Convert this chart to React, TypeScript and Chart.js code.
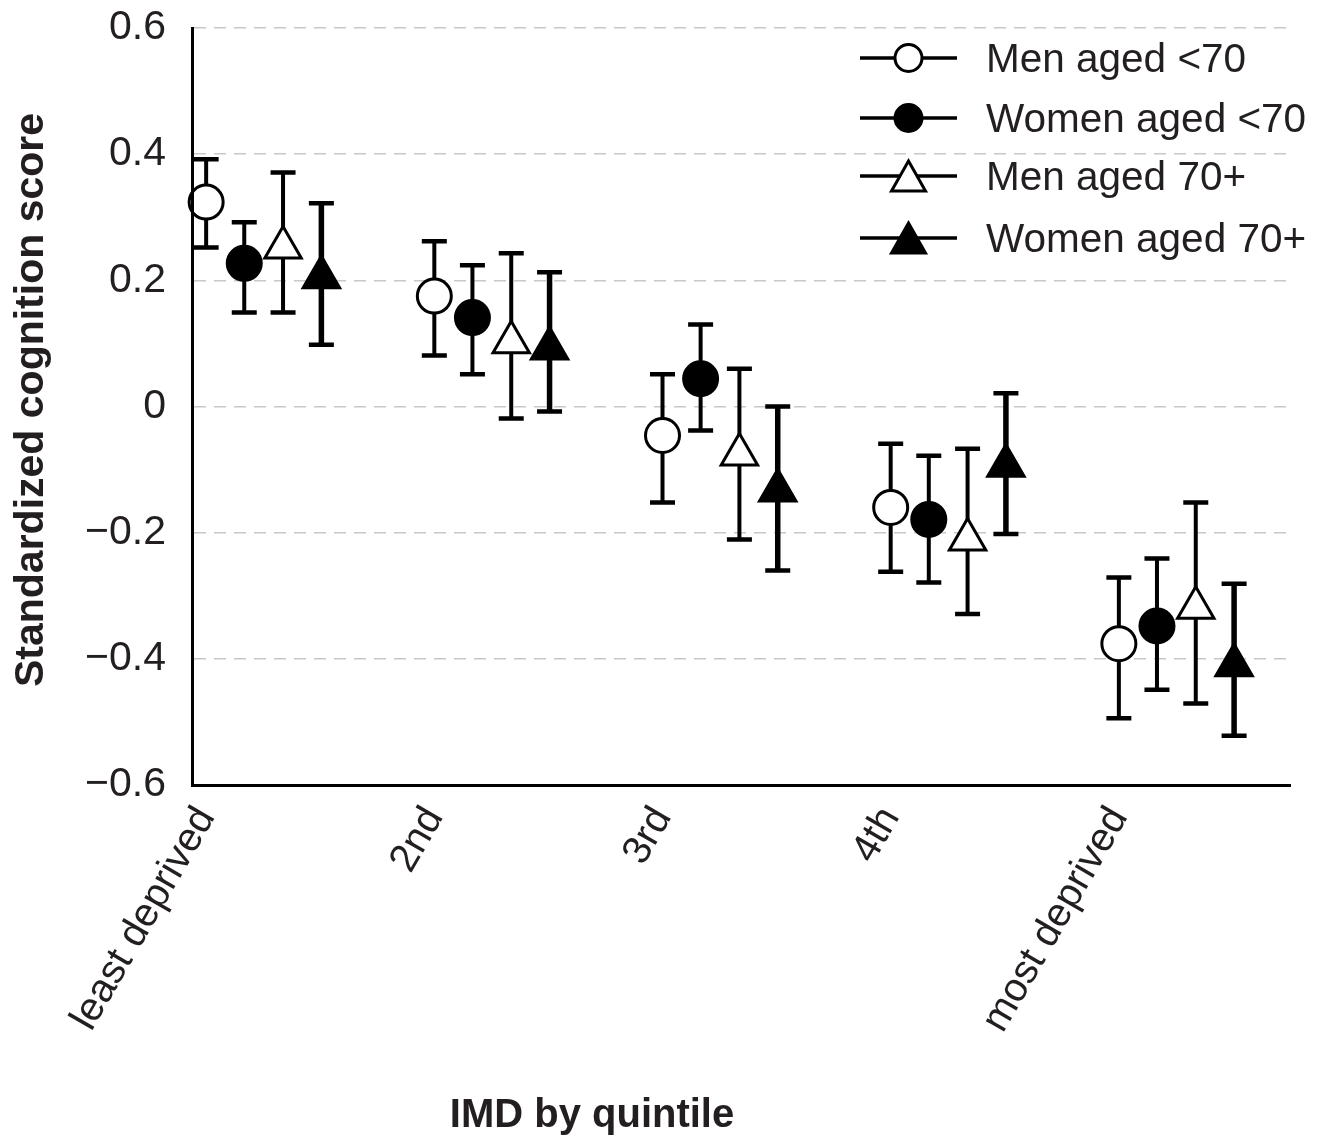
import React, { useEffect, useRef } from 'react';
import { Chart, registerables } from 'chart.js';

Chart.register(...registerables);

// ---------- data ----------
const categories = ['least deprived', '2nd', '3rd', '4th', 'most deprived'];
const seriesNames = ['Men aged <70', 'Women aged <70', 'Men aged 70+', 'Women aged 70+'];

const menUnder70 = [0.324, 0.175, -0.046, -0.16, -0.376];
const menUnder70Lo = [0.252, 0.081, -0.152, -0.262, -0.494];
const menUnder70Hi = [0.392, 0.262, 0.051, -0.059, -0.271];

const womenUnder70 = [0.227, 0.141, 0.044, -0.179, -0.348];
const womenUnder70Lo = [0.149, 0.051, -0.038, -0.279, -0.449];
const womenUnder70Hi = [0.292, 0.224, 0.13, -0.078, -0.241];

const men70Plus = [0.252, 0.102, -0.076, -0.211, -0.319];
const men70PlusLo = [0.149, -0.019, -0.211, -0.329, -0.471];
const men70PlusHi = [0.371, 0.243, 0.06, -0.067, -0.152];

const women70Plus = [0.205, 0.092, -0.133, -0.094, -0.41];
const women70PlusLo = [0.098, -0.008, -0.26, -0.202, -0.522];
const women70PlusHi = [0.322, 0.213, 0.0, 0.021, -0.281];

const yTicks = [-0.6, -0.4, -0.2, 0, 0.2, 0.4, 0.6];
const yTickLabels = ['\u22120.6', '\u22120.4', '\u22120.2', '0', '0.2', '0.4', '0.6'];

const yTitle = 'Standardized cognition score';
const xTitle = 'IMD by quintile';

const seriesMeans = [menUnder70, womenUnder70, men70Plus, women70Plus];
const seriesLo = [menUnder70Lo, womenUnder70Lo, men70PlusLo, women70PlusLo];
const seriesHi = [menUnder70Hi, womenUnder70Hi, men70PlusHi, women70PlusHi];

// ---------- styling ----------
const FONT = '"Liberation Sans", Arial, Helvetica, sans-serif';
const TEXT = '#231f20';
const groupOffsets = [0, 0.167, 0.337, 0.505];
const markerStyles = [
  { shape: 'circle', fill: '#ffffff', radius: 17, bar: 4 },
  { shape: 'circle', fill: '#000000', radius: 17, bar: 4 },
  { shape: 'triangle', fill: '#ffffff', radius: 21, bar: 4 },
  { shape: 'triangle', fill: '#000000', radius: 21, bar: 5.5 },
];

function drawLegendMarker(ctx: CanvasRenderingContext2D, k: number, x: number, y: number) {
  const st = markerStyles[k];
  ctx.save();
  ctx.lineWidth = 3;
  ctx.strokeStyle = '#000';
  ctx.fillStyle = st.fill;
  ctx.beginPath();
  if (st.shape === 'circle') {
    ctx.arc(x, y, 13.5, 0, Math.PI * 2);
  } else {
    ctx.moveTo(x, y - 15);
    ctx.lineTo(x + 17, y + 15);
    ctx.lineTo(x - 17, y + 15);
    ctx.closePath();
  }
  ctx.fill();
  ctx.stroke();
  ctx.restore();
}

const extrasPlugin = {
  id: 'extras',
  beforeDatasetsDraw(chart: any) {
    const ctx: CanvasRenderingContext2D = chart.ctx;
    const ys = chart.scales.y;
    ctx.save();
    ctx.strokeStyle = '#000';
    ctx.lineCap = 'butt';
    seriesMeans.forEach((_, k) => {
      const meta = chart.getDatasetMeta(k);
      meta.data.forEach((pt: any, i: number) => {
        const x = pt.x;
        const yTop = ys.getPixelForValue(seriesHi[k][i]);
        const yBot = ys.getPixelForValue(seriesLo[k][i]);
        ctx.lineWidth = markerStyles[k].bar;
        ctx.beginPath();
        ctx.moveTo(x, yTop);
        ctx.lineTo(x, yBot);
        ctx.stroke();
        ctx.lineWidth = 4.5;
        ctx.beginPath();
        ctx.moveTo(x - 12.5, yTop);
        ctx.lineTo(x + 12.5, yTop);
        ctx.moveTo(x - 12.5, yBot);
        ctx.lineTo(x + 12.5, yBot);
        ctx.stroke();
      });
    });
    ctx.restore();
  },
  afterDraw(chart: any) {
    const ctx: CanvasRenderingContext2D = chart.ctx;
    const area = chart.chartArea;
    // legend
    const rowOffsets = [30, 90, 148, 210];
    const x0 = area.right - 430;
    const x1 = area.right - 333;
    const mx = (x0 + x1) / 2;
    const tx = area.right - 304;
    ctx.save();
    seriesNames.forEach((name, k) => {
      const y = area.top + rowOffsets[k];
      ctx.strokeStyle = '#000';
      ctx.lineWidth = 3.5;
      ctx.beginPath();
      ctx.moveTo(x0, y);
      ctx.lineTo(x1, y);
      ctx.stroke();
      drawLegendMarker(ctx, k, mx, y);
      ctx.fillStyle = TEXT;
      ctx.font = `40.5px ${FONT}`;
      ctx.textAlign = 'left';
      ctx.textBaseline = 'alphabetic';
      ctx.fillText(name, tx, y + 14);
    });
    // axis titles
    ctx.fillStyle = TEXT;
    ctx.font = `bold 40px ${FONT}`;
    ctx.textAlign = 'center';
    ctx.textBaseline = 'alphabetic';
    ctx.fillText(xTitle, 592, 1127);
    ctx.translate(43, 400);
    ctx.rotate(-Math.PI / 2);
    ctx.font = `bold 41px ${FONT}`;
    ctx.fillText(yTitle, 0, 0);
    ctx.restore();
  },
};

export default function App() {
  const ref = useRef<HTMLCanvasElement>(null);

  useEffect(() => {
    const canvas = ref.current;
    if (!canvas) return;
    const datasets = seriesMeans.map((means, k) => ({
      label: seriesNames[k],
      data: means.map((v, i) => ({ x: i + groupOffsets[k], y: v })),
      pointStyle: markerStyles[k].shape,
      pointRadius: markerStyles[k].radius,
      pointHoverRadius: markerStyles[k].radius,
      pointBorderWidth: 3,
      pointHoverBorderWidth: 3,
      pointBackgroundColor: markerStyles[k].fill,
      pointBorderColor: '#000',
      showLine: false,
      clip: false,
    }));

    const chart = new Chart(canvas, {
      type: 'scatter',
      data: { datasets },
      options: {
        animation: false,
        responsive: false,
        devicePixelRatio: 1,
        layout: { padding: { top: 28, right: 36, left: 0, bottom: 0 } },
        plugins: {
          legend: { display: false },
          tooltip: { enabled: false },
          title: { display: false },
        },
        events: [],
        scales: {
          x: {
            type: 'linear',
            min: -0.062,
            max: 4.75,
            afterBuildTicks: (s: any) => {
              s.ticks = categories.map((_, i) => ({ value: i }));
            },
            afterFit: (s: any) => {
              s.height = 353;
            },
            ticks: {
              autoSkip: false,
              minRotation: 60,
              maxRotation: 60,
              padding: 14,
              color: TEXT,
              font: { family: FONT, size: 40 },
              callback: (v: any) => categories[v as number] ?? '',
            },
            grid: { display: false, drawTicks: false },
            border: { display: true, color: '#000', width: 3 },
          },
          y: {
            type: 'linear',
            min: -0.6,
            max: 0.6,
            afterBuildTicks: (s: any) => {
              s.ticks = yTicks.map((v) => ({ value: v }));
            },
            afterFit: (s: any) => {
              s.width = 192;
              s.paddingTop = 0;
              s.paddingBottom = 0;
            },
            ticks: {
              padding: 26,
              color: TEXT,
              font: { family: FONT, size: 41 },
              callback: (_v: any, i: number) => yTickLabels[i],
            },
            grid: { color: '#c8c8c8', lineWidth: 1.5, drawTicks: false },
            border: { display: true, color: '#000', width: 3, dash: [12, 8], z: 1 },
          },
        },
      } as any,
      plugins: [extrasPlugin],
    });
    return () => chart.destroy();
  }, []);

  return (
    <div style={{ position: 'absolute', left: 0, top: 0, width: 1326, height: 1138, background: '#fff' }}>
      <canvas ref={ref} width={1326} height={1138} style={{ width: 1326, height: 1138, display: 'block' }} />
    </div>
  );
}
